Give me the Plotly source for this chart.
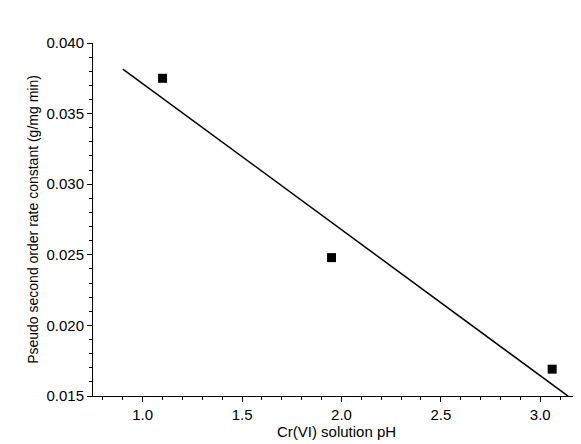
import numpy as np
import plotly.graph_objects as go

# pH values and measured rate constants
ph = [1.10, 1.95, 3.06]
k2 = [0.0375, 0.0248, 0.0169]
# linear fit drawn over this pH span
fit_span = [0.90, 3.14]

slope, intercept = np.polyfit(ph, k2, 1)
fit_x = np.array(fit_span)
fit_y = slope * fit_x + intercept

fig = go.Figure()
fig.add_trace(go.Scatter(x=fit_x, y=fit_y, mode="lines",
                         line=dict(color="black", width=1.5), showlegend=False))
fig.add_trace(go.Scatter(x=ph, y=k2, mode="markers",
                         marker=dict(symbol="square", size=9, color="black"),
                         showlegend=False))

axis_common = dict(showgrid=False, zeroline=False, showline=True, linecolor="black",
                   linewidth=1, ticks="outside", ticklen=5, tickcolor="black",
                   tickfont=dict(size=15),
                   minor=dict(ticks="outside", ticklen=3, tickcolor="black"))
fig.update_xaxes(range=[0.75, 3.2], tickvals=[1.0, 1.5, 2.0, 2.5, 3.0],
                 ticktext=["1.0", "1.5", "2.0", "2.5", "3.0"],
                 title=dict(text="Cr(VI) solution pH", standoff=0, font=dict(size=15)),
                 **axis_common)
fig.update_yaxes(range=[0.015, 0.040], dtick=0.005, tickformat=".3f",
                 title=dict(text="Pseudo second order rate constant (g/mg min)", standoff=4,
                            font=dict(size=14)),
                 **axis_common)
# page body adds an 8px offset, so the figure is shrunk to fit the window
fig.update_layout(width=573, height=436, plot_bgcolor="white", paper_bgcolor="white",
                  margin=dict(l=85, r=1, t=35, b=48, autoexpand=False),
                  font=dict(family="Liberation Sans, Arial", color="black"))
fig.write_html("out.html")
